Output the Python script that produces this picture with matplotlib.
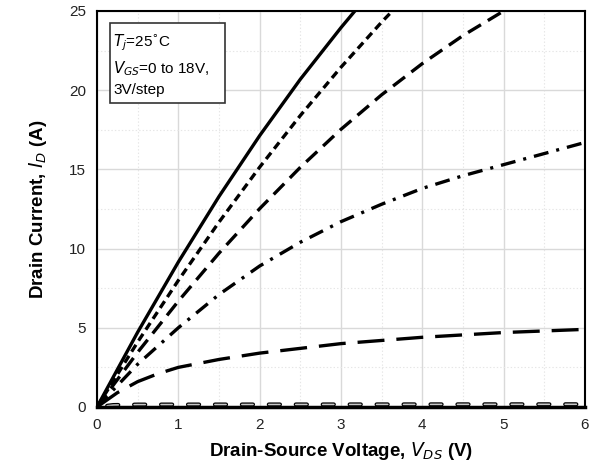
import matplotlib
matplotlib.use("Agg")
import matplotlib.pyplot as plt
from matplotlib.ticker import MultipleLocator
from matplotlib.patches import Rectangle

plt.rcParams['lines.scale_dashes'] = False
plt.rcParams['font.family'] = ['Liberation Sans', 'DejaVu Sans']

# output curves, one per gate voltage
vds_18 = [0, 0.5, 1, 1.5, 2, 2.5, 3, 3.2]
id_18 = [0, 4.72, 9.15, 13.29, 17.13, 20.69, 23.95, 25.18]

vds_15 = [0, 0.5, 1, 1.5, 2, 2.5, 3, 3.5, 3.8]
id_15 = [0, 4.10, 7.99, 11.67, 15.14, 18.40, 21.45, 24.30, 25.9]

vds_12 = [0, 0.5, 1, 1.5, 2, 2.5, 3, 3.5, 4, 4.5, 5, 5.2]
id_12 = [0, 3.45, 6.68, 9.71, 12.52, 15.13, 17.53, 19.71, 21.68, 23.45, 25.0, 25.56]

vds_9 = [0, 0.5, 1, 1.5, 2, 2.5, 3, 3.5, 4, 4.5, 5, 5.5, 6]
id_9 = [0, 2.7, 5.0, 7.1, 8.9, 10.4, 11.7, 12.8, 13.8, 14.6, 15.3, 16.0, 16.7]

vds_6 = [0, 0.25, 0.5, 0.75, 1, 1.5, 2, 2.5, 3, 3.5, 4, 4.5, 5, 5.5, 6]
id_6 = [0, 0.9, 1.6, 2.1, 2.5, 3.0, 3.4, 3.7, 4.0, 4.2, 4.4, 4.55, 4.7, 4.8, 4.9]

vds_3 = [0, 0.2, 0.5, 6]
id_3 = [0, 0.12, 0.15, 0.17]

vds_0 = [0, 6]
id_0 = [0, 0]

x_ticks = [0, 1, 2, 3, 4, 5, 6]
y_ticks = [0, 5, 10, 15, 20, 25]

fig = plt.figure(figsize=(5.9, 4.74), dpi=100)
ax = fig.add_axes([0.1644, 0.1414, 0.8271, 0.8354])

ax.set_xlim(0, 6)
ax.set_ylim(0, 25)
ax.set_xticks(x_ticks)
ax.set_yticks(y_ticks)
ax.xaxis.set_minor_locator(MultipleLocator(0.5))
ax.yaxis.set_minor_locator(MultipleLocator(2.5))
ax.grid(which='major', color='#d9d9d9', lw=1.0)
ax.grid(which='minor', color='#e6e6e6', lw=0.8, ls=(0, (1, 1.5)))
ax.set_axisbelow(True)
ax.tick_params(which='both', length=0)
ax.tick_params(labelsize=11, labelcolor='#222222', pad=8)

lw = 2.4
ax.plot(vds_18, id_18, color='black', lw=lw)
ax.plot(vds_15, id_15, color='black', lw=lw, ls=(0, (5.8, 3.6)))
ax.plot(vds_12, id_12, color='black', lw=lw, ls=(0, (10.8, 5.8)))
ax.plot(vds_9, id_9, color='black', lw=lw, ls=(0, (10.8, 5.8, 2.2, 5.8)))
ax.plot(vds_6, id_6, color='black', lw=lw, ls=(0, (19.4, 8.6)))
ax.plot(vds_3, id_3, color='black', lw=3.0, ls=(12, (8, 11.4)), dash_capstyle='round')
ax.plot(vds_3, id_3, color='#c8c8c8', lw=1.2, ls=(12, (8, 11.4)), dash_capstyle='round')
ax.plot(vds_0, id_0, color='black', lw=2.5, clip_on=False)

for side in ['left', 'right', 'top']:
    ax.spines[side].set_linewidth(1.5)
ax.spines['bottom'].set_linewidth(2.0)

ax.set_xlabel('Drain-Source Voltage, $\\boldsymbol{V_{DS}}$ (V)', fontsize=13.5, fontweight='bold', labelpad=6)
ax.set_ylabel('Drain Current, $\\boldsymbol{I_{D}}$ (A)', fontsize=13.5, fontweight='bold', labelpad=14)

ax.add_patch(Rectangle((0.027, 0.768), 0.235, 0.202, transform=ax.transAxes,
                       fc='white', ec='#333333', lw=1.2, zorder=5))
ax.text(0.033, 0.945, '$T_j$=25$^{\\circ}$C\n$V_{GS}$=0 to 18V,\n3V/step',
        transform=ax.transAxes, fontsize=11, va='top', ha='left', linespacing=1.45,
        zorder=6)

fig.savefig('out.png', dpi=100)
